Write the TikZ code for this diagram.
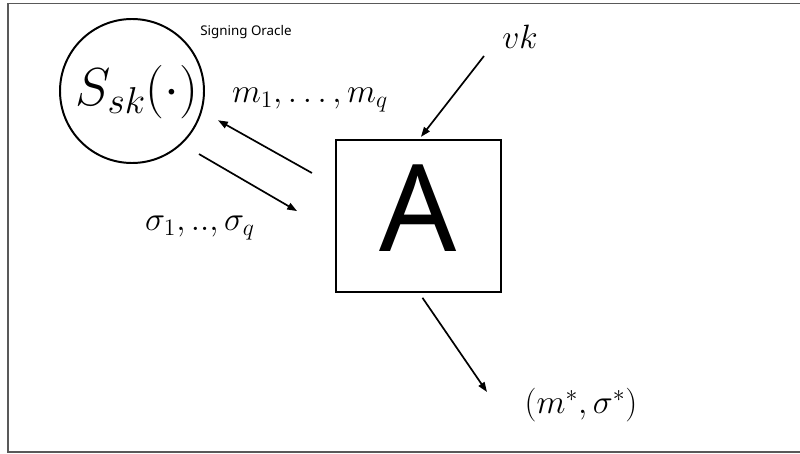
\documentclass[tikz,border=0pt]{standalone}
\usepackage{fix-cm}
\usepackage{amsmath,amssymb}
\usepackage{fontspec}
\setsansfont{Noto Sans}
\usetikzlibrary{arrows.meta,calc,positioning}
\tikzset{
  line cap=round,
  line join=round,
  oracle/.style={draw, circle, line width=1.4pt, minimum size=102.4pt, inner sep=0pt, outer sep=0pt},
  advbox/.style={draw, line width=1.4pt, minimum width=117.4pt, minimum height=108.1pt, inner sep=0pt, outer sep=0pt},
  arr/.style={-{Triangle[length=7pt,width=5pt]}, line width=1.2pt},
  lbl/.style={inner sep=0pt, font=\fontsize{24}{29}\selectfont},
  framecol/.style={draw=black!65, line width=0.8pt}
}

\begin{document}
\begin{tikzpicture}[x=0.025cm,y=-0.025cm]
  \useasboundingbox (0,0) rectangle (800,453);
  \draw[framecol] (800,3.5) -- (8,3.5) -- (8,452) -- (800,452);

  % oracle and adversary
  \node[oracle] (oracle) at (132,91) {};
  \node[inner sep=0pt, font=\fontsize{38}{44}\selectfont] (orfun) at (137,92) {$S_{sk}(\cdot)$};
  \node[inner sep=0pt, font=\sffamily\fontsize{9.5}{11}\selectfont] (orname) at (246,32) {Signing Oracle};
  \node[advbox, text depth=11.4pt] (adv) at (418.5,216) {\sffamily\fontsize{86}{86}\selectfont A};

  % labels
  \node[lbl] (msgs) at (310,100) {$m_1,\ldots,m_q$};
  \node[lbl] (sigs) at (200,228) {$\sigma_1,..,\sigma_q$};
  \node[lbl] (vk) at (520,37) {$vk$};
  \node[lbl] (out) at (581,405) {$(m^*,\sigma^*)$};

  \coordinate (vktail) at (484,56);
  \coordinate (outhead) at (487,392);

  % queries and answers
  \draw[arr, shorten <=19.6pt, shorten >=13.7pt] ([yshift=21pt]adv.west) -- (oracle.-16);
  \draw[arr, shorten <=14.7pt, shorten >=32pt] (oracle.-47) -- ([yshift=-12.6pt]adv.west);
  \draw[arr, shorten >=2.8pt] (vktail) -- (adv.north);
  \draw[arr, shorten <=5pt] (adv.south) -- (outhead);
\end{tikzpicture}
\end{document}
